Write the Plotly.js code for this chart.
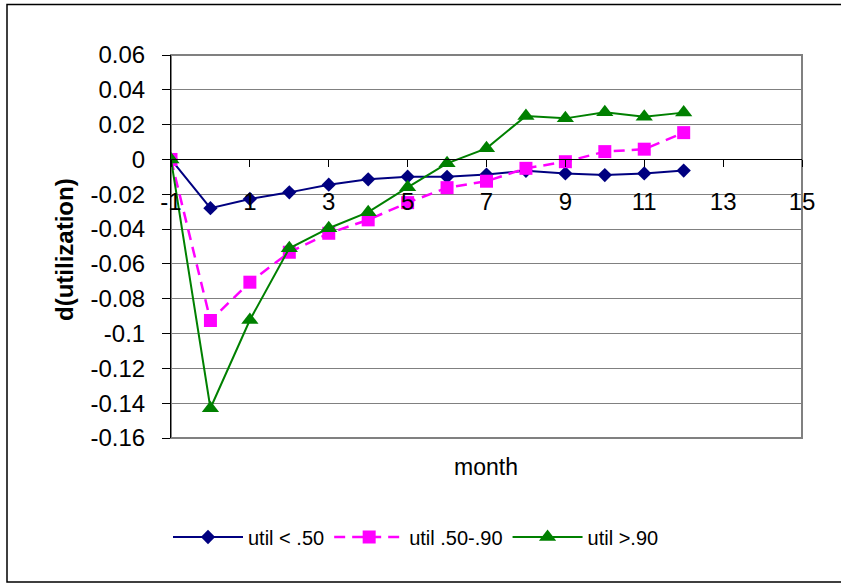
<!DOCTYPE html>
<html>
<head>
<meta charset="utf-8">
<script src="https://cdn.plot.ly/plotly-3.0.1.min.js"></script>
<style>
  html, body { margin: 0; padding: 0; background: #fff; }
  #chart { width: 841px; height: 583px; }
</style>
</head>
<body>
<div id="chart"></div>
<script>
// ---- data ----
const months = [-1, 0, 1, 2, 3, 4, 5, 6, 7, 8, 9, 10, 11, 12];
const utilLow = [0, -0.028, -0.0227, -0.0189, -0.0145, -0.0114, -0.0099, -0.0100, -0.0087, -0.0065, -0.0080, -0.0090, -0.0080, -0.0064];
const utilMid = [0, -0.0925, -0.0705, -0.0533, -0.0424, -0.0347, -0.0248, -0.0162, -0.0125, -0.0051, -0.0013, 0.0045, 0.0059, 0.0154];
const utilHigh = [0, -0.1429, -0.0922, -0.0510, -0.0395, -0.0303, -0.0160, -0.0022, 0.0064, 0.0250, 0.0236, 0.0271, 0.0246, 0.0269];
const seriesNames = ["util < .50", "util .50-.90", "util >.90"];
const xTickVals = [-1, 1, 3, 5, 7, 9, 11, 13, 15];
const xTickText = ["-1", "1", "3", "5", "7", "9", "11", "13", "15"];
const yTickVals = [0.06, 0.04, 0.02, 0, -0.02, -0.04, -0.06, -0.08, -0.1, -0.12, -0.14, -0.16];
const yTickText = ["0.06", "0.04", "0.02", "0", "-0.02", "-0.04", "-0.06", "-0.08", "-0.1", "-0.12", "-0.14", "-0.16"];
const xTitle = "month";
const yTitle = "d(utilization)";

const FONT = "Liberation Sans, Arial, sans-serif";

const traces = [
  {
    x: months, y: utilLow, name: seriesNames[0], type: "scatter", mode: "lines+markers",
    line: { color: "#000080", width: 2 },
    marker: { symbol: "diamond", size: 11, color: "#000080" }
  },
  {
    x: months, y: utilMid, name: seriesNames[1], type: "scatter", mode: "lines+markers",
    line: { color: "#FF00FF", width: 2.5, dash: "11px,7px" },
    marker: { symbol: "square", size: 13, color: "#FF00FF" }
  },
  {
    x: months, y: utilHigh, name: seriesNames[2], type: "scatter", mode: "lines+markers",
    line: { color: "#008000", width: 2 },
    marker: { symbol: "triangle-up", size: 15, color: "#008000" }
  }
];

const L = 171, R = 802, T = 55, B = 438, W = 841, H = 583;
const pw = R - L, ph = B - T;
const px = v => (v - L) / pw;
const py = v => (B - v) / ph;
const zeroPos = (0 - (-0.16)) / (0.06 - (-0.16));

const layout = {
  width: W, height: H,
  margin: { l: L, r: W - R, t: T, b: H - B, pad: 0 },
  paper_bgcolor: "#ffffff",
  plot_bgcolor: "#ffffff",
  font: { family: FONT, size: 24, color: "#000" },
  showlegend: true,
  legend: {
    orientation: "h",
    x: px(168), xanchor: "left",
    y: py(537), yanchor: "middle",
    font: { family: FONT, size: 20, color: "#000" },
    itemwidth: 70,
    bgcolor: "rgba(0,0,0,0)",
    traceorder: "normal"
  },
  xaxis: {
    range: [-1, 15],
    anchor: "free",
    position: zeroPos,
    tickmode: "array",
    tickvals: xTickVals,
    ticktext: xTickText,
    ticks: "outside", ticklen: 7, tickwidth: 1, tickcolor: "#000",
    showline: true, linecolor: "#000", linewidth: 1,
    showgrid: false, zeroline: false,
    ticklabelstandoff: 14,
    tickfont: { family: FONT, size: 24, color: "#000" }
  },
  yaxis: {
    range: [-0.16, 0.06],
    tickmode: "array",
    tickvals: yTickVals,
    ticktext: yTickText,
    ticks: "outside", ticklen: 8, tickwidth: 1, tickcolor: "#000",
    showline: true, linecolor: "#000", linewidth: 1,
    showgrid: true, gridcolor: "#808080", gridwidth: 1,
    zeroline: false,
    ticklabelstandoff: 12,
    tickfont: { family: FONT, size: 24, color: "#000" }
  },
  shapes: [
    { type: "rect", xref: "paper", yref: "paper", x0: 0, x1: 1, y0: 0, y1: 1,
      line: { color: "#808080", width: 2 }, layer: "below" },
    { type: "rect", xref: "paper", yref: "paper", x0: px(7), x1: px(845), y0: py(582), y1: py(4.5),
      line: { color: "#000", width: 1.5 }, layer: "above" }
  ],
  annotations: [
    { text: xTitle, xref: "paper", yref: "paper", x: px(486), y: py(467),
      xanchor: "center", yanchor: "middle", showarrow: false,
      font: { family: FONT, size: 23, color: "#000" } },
    { text: "<b>" + yTitle + "</b>", xref: "paper", yref: "paper", x: px(64), y: py(250),
      xanchor: "center", yanchor: "middle", showarrow: false, textangle: -90,
      font: { family: FONT, size: 24, color: "#000" } }
  ]
};

Plotly.newPlot("chart", traces, layout, { displayModeBar: false, staticPlot: true });
</script>
</body>
</html>
